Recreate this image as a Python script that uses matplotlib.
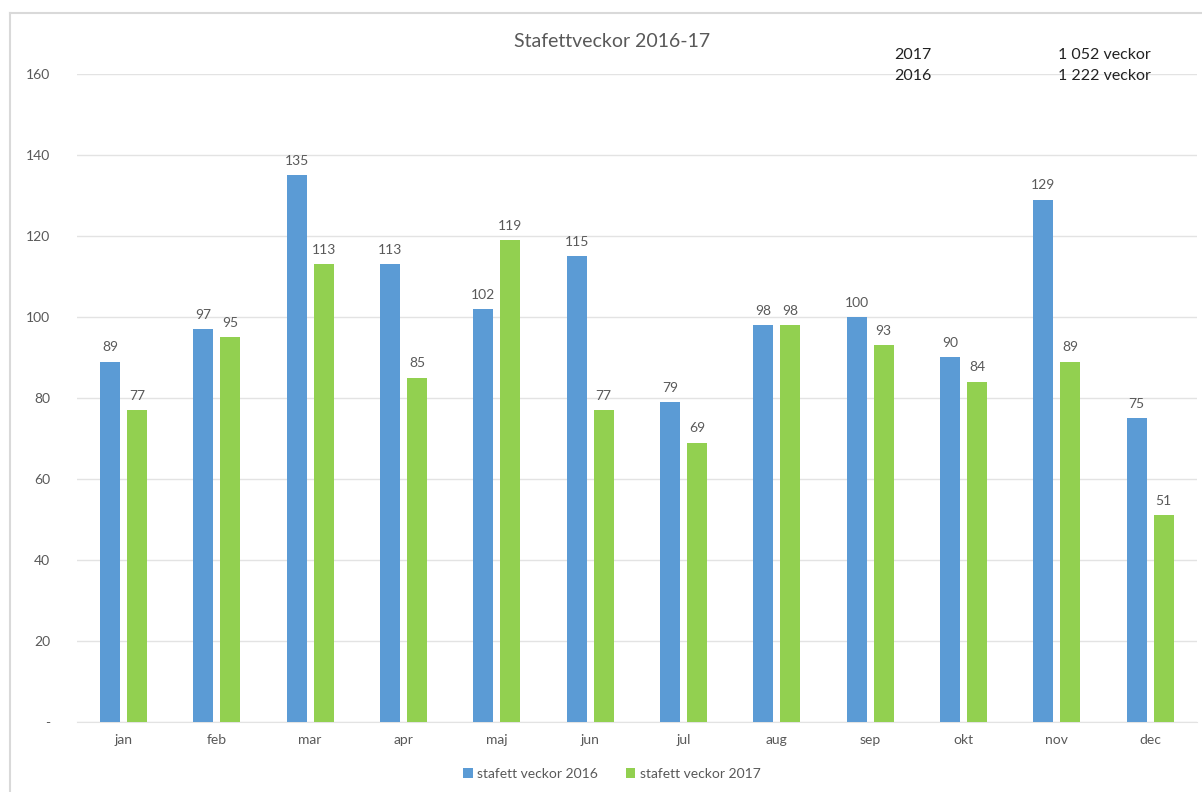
import matplotlib.pyplot as plt
from matplotlib.lines import Line2D
import numpy as np

# Monthly relay weeks
months = ['jan', 'feb', 'mar', 'apr', 'maj', 'jun', 'jul', 'aug', 'sep', 'okt', 'nov', 'dec']
weeks_2016 = [89, 97, 135, 113, 102, 115, 79, 98, 100, 90, 129, 75]
weeks_2017 = [77, 95, 113, 85, 119, 77, 69, 98, 93, 84, 89, 51]
totals = [('2017', '1 052 veckor'), ('2016', '1 222 veckor')]

blue = '#5B9BD5'
green = '#92D050'
grey = '#595959'

plt.rcParams['font.family'] = ['Lato', 'DejaVu Sans']

fig = plt.figure(figsize=(12.02, 7.92), dpi=100)
ax = fig.add_axes([0.0639, 0.0884, 0.9318, 0.8182])

# chart area border (left and top edges visible)
bx, by = 10 / 1202, 1 - 13 / 792
fig.add_artist(Line2D([bx, bx], [0, by], transform=fig.transFigure,
                      color='#D9D9D9', linewidth=1.5))
fig.add_artist(Line2D([bx, 1], [by, by], transform=fig.transFigure,
                      color='#D9D9D9', linewidth=1.5))

x = np.arange(len(months))
w = 0.214
off = 0.145
b1 = ax.bar(x - off, weeks_2016, w, color=blue, label='stafett veckor 2016', zorder=3)
b2 = ax.bar(x + off, weeks_2017, w, color=green, label='stafett veckor 2017', zorder=3)

for bars, vals in ((b1, weeks_2016), (b2, weeks_2017)):
    for rect, v in zip(bars, vals):
        ax.annotate(str(v), (rect.get_x() + rect.get_width() / 2, v),
                    xytext=(0, 6), textcoords='offset points',
                    ha='center', va='bottom', fontsize=10, color=grey)

ax.set_xlim(-0.5, 11.5)
ax.set_ylim(0, 160)
ax.set_yticks(range(0, 161, 20))
ax.set_yticklabels(['-'] + [str(v) for v in range(20, 161, 20)])
ax.set_xticks(x)
ax.set_xticklabels(months)
ax.tick_params(axis='both', length=0, labelsize=10, labelcolor=grey)
ax.tick_params(axis='y', pad=19)
ax.tick_params(axis='x', pad=9)
ax.yaxis.grid(True, color='#E3E3E3', linewidth=1, zorder=0)
for s in ['top', 'right', 'left']:
    ax.spines[s].set_visible(False)
ax.spines['bottom'].set_color('#E3E3E3')

fig.text(0.509, 0.947, 'Stafettveckor 2016-17', ha='center', va='center',
         fontsize=14, color=grey)

for i, (yr, txt) in enumerate(totals):
    yy = 1 - (55 + 21 * i) / 792
    fig.text(894 / 1202, yy, yr, ha='left', va='center', fontsize=11.5, color='#222222')
    fig.text(1058 / 1202, yy, txt, ha='left', va='center', fontsize=11.5, color='#222222')

fig.legend(loc='center', bbox_to_anchor=(0.509, 1 - 774 / 792), ncol=2, frameon=False,
           fontsize=10, labelcolor=grey, handlelength=0.7, handleheight=0.7,
           handletextpad=0.3, columnspacing=2.0)

fig.savefig('out.png', dpi=100)
